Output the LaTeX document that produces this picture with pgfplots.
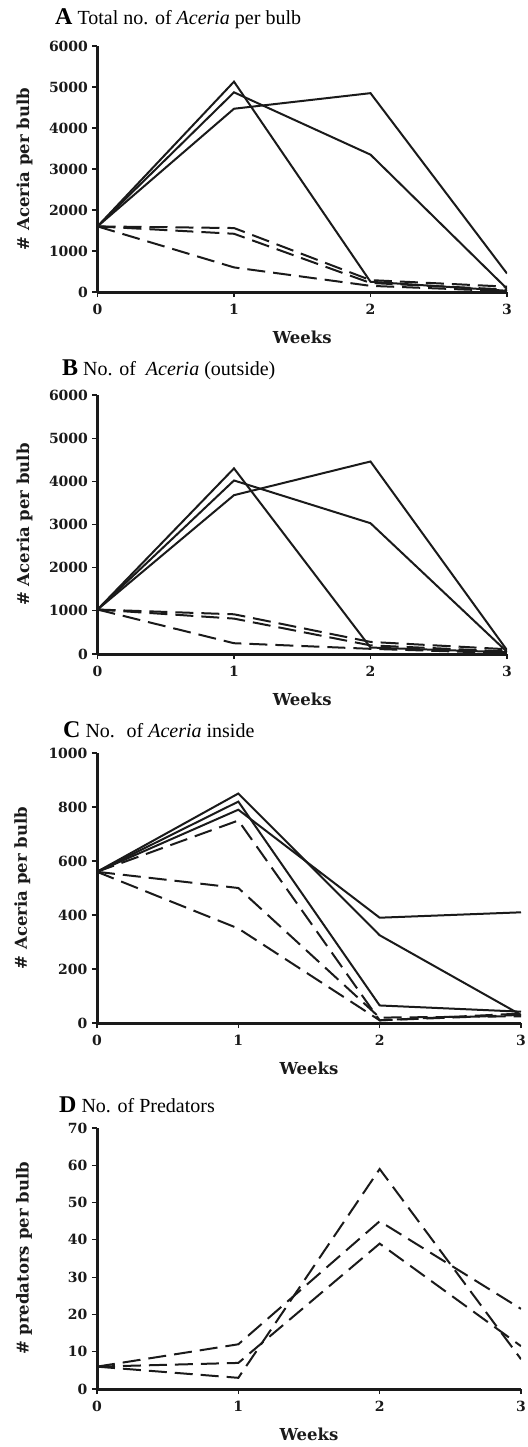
\documentclass[border=0pt]{standalone}
\usepackage{fontspec}
\setmainfont{Liberation Serif}
\newfontfamily\axfont{DejaVu Serif}
\usepackage{pgfplots}
\usepackage{pgfplotstable}
\pgfplotsset{compat=1.18}

\definecolor{ink}{HTML}{1A1A1A}

% weeks 0-3; s = solid lines, d = dashed lines
\pgfplotstableread{
week s1 s2 s3 d1 d2 d3
0 1600 1600 1600 1600 1600 1600
1 5130 4870 4470 1560 1420 600
2 250 3350 4850 290 220 150
3 30 80 450 130 60 20
}\total
\pgfplotstableread{
week s1 s2 s3 d1 d2 d3
0 1030 1030 1030 1030 1030 1030
1 4300 4020 3680 920 820 250
2 150 3030 4460 280 200 120
3 40 50 90 110 60 20
}\outside
\pgfplotstableread{
week s1 s2 s3 d1 d2 d3
0 560 560 560 560 560 560
1 850 820 790 750 500 350
2 325 65 390 10 20 10
3 30 42 410 30 25 35
}\inside
\pgfplotstableread{
week p1 p2 p3
0 6 6 6
1 12 3 7
2 45 59 39
3 21.5 8 11.5
}\predators

\pgfplotsset{
  panel/.style={
    scale only axis,
    anchor=south west,
    axis lines=left,
    axis line style={-, line width=3pt, ink},
    xmin=0, xmax=3, ymin=0,
    xtick={0,1,2,3},
    tick align=outside,
    major tick length=5pt,
    tick style={line width=1.2pt, ink},
    ticklabel style={font=\axfont\bfseries\fontsize{14}{14}\selectfont, text=ink},
    xticklabel style={yshift=-4pt},
    yticklabel style={xshift=-1pt},
    /pgf/number format/assume math mode=true,
    /pgf/number format/1000 sep={},
    xlabel={Weeks},
    xlabel style={at={(axis description cs:0.5,0)}, anchor=base, yshift=-51pt,
      font=\axfont\bfseries\fontsize{16.5}{16.5}\selectfont, text=ink},
    ylabel style={anchor=center, font=\axfont\bfseries\fontsize{16.5}{16.5}\selectfont, text=ink},
    every axis plot/.append style={line width=2pt, ink, mark=none},
  },
  sol/.style={solid},
  das/.style={dash pattern=on 18pt off 8pt},
}

\newcommand{\ttl}[2]{{\fontsize{24}{24}\selectfont\textbf{#1}}\fontsize{20}{20}\selectfont\ #2}

\begin{document}
\begin{tikzpicture}
\path[use as bounding box] (0,0) rectangle (527pt,-1447pt);
\clip (0,0) rectangle (527pt,-1447pt);

\node[anchor=base west, inner sep=0pt] at (55pt,-25pt)
  {\ttl{A}{Total no. of \textit{Aceria} per bulb}};
\begin{axis}[panel, at={(97.5pt,-292pt)}, width=409.5pt, height=246pt,
  ymax=6000, ytick={0,1000,...,6000},
  ylabel={\# Aceria per bulb},
  ylabel style={at={(axis description cs:-0.178,0.5)}}]
  \addplot[sol] table[x=week, y=s1] {\total};
  \addplot[sol] table[x=week, y=s2] {\total};
  \addplot[sol] table[x=week, y=s3] {\total};
  \addplot[das] table[x=week, y=d1] {\total};
  \addplot[das] table[x=week, y=d2] {\total};
  \addplot[das] table[x=week, y=d3] {\total};
\end{axis}

\node[anchor=base west, inner sep=0pt] at (62pt,-375pt)
  {\ttl{B}{No. of \ \textit{Aceria} (outside)}};
\begin{axis}[panel, at={(97.5pt,-654pt)}, width=409.5pt, height=259pt,
  ymax=6000, ytick={0,1000,...,6000},
  ylabel={\# Aceria per bulb},
  ylabel style={at={(axis description cs:-0.178,0.5)}}]
  \addplot[sol] table[x=week, y=s1] {\outside};
  \addplot[sol] table[x=week, y=s2] {\outside};
  \addplot[sol] table[x=week, y=s3] {\outside};
  \addplot[das] table[x=week, y=d1] {\outside};
  \addplot[das] table[x=week, y=d2] {\outside};
  \addplot[das] table[x=week, y=d3] {\outside};
\end{axis}

\node[anchor=base west, inner sep=0pt] at (63pt,-737pt)
  {\ttl{C}{No. \ of \textit{Aceria} inside}};
\begin{axis}[panel, at={(97pt,-1023pt)}, width=424pt, height=270pt,
  ymax=1000, ytick={0,200,...,1000},
  ylabel={\# Aceria per bulb},
  ylabel style={at={(axis description cs:-0.176,0.5)}}]
  \addplot[sol] table[x=week, y=s1] {\inside};
  \addplot[sol] table[x=week, y=s2] {\inside};
  \addplot[sol] table[x=week, y=s3] {\inside};
  \addplot[das] table[x=week, y=d1] {\inside};
  \addplot[das] table[x=week, y=d2] {\inside};
  \addplot[das] table[x=week, y=d3] {\inside};
\end{axis}

\node[anchor=base west, inner sep=0pt] at (59pt,-1112pt)
  {\ttl{D}{No. of Predators}};
\begin{axis}[panel, at={(97pt,-1389pt)}, width=424pt, height=261pt,
  ymax=70, ytick={0,10,...,70},
  ylabel={\# predators per bulb},
  ylabel style={at={(axis description cs:-0.172,0.5)}}]
  \addplot[das] table[x=week, y=p1] {\predators};
  \addplot[das] table[x=week, y=p2] {\predators};
  \addplot[das] table[x=week, y=p3] {\predators};
\end{axis}
\end{tikzpicture}
\end{document}
